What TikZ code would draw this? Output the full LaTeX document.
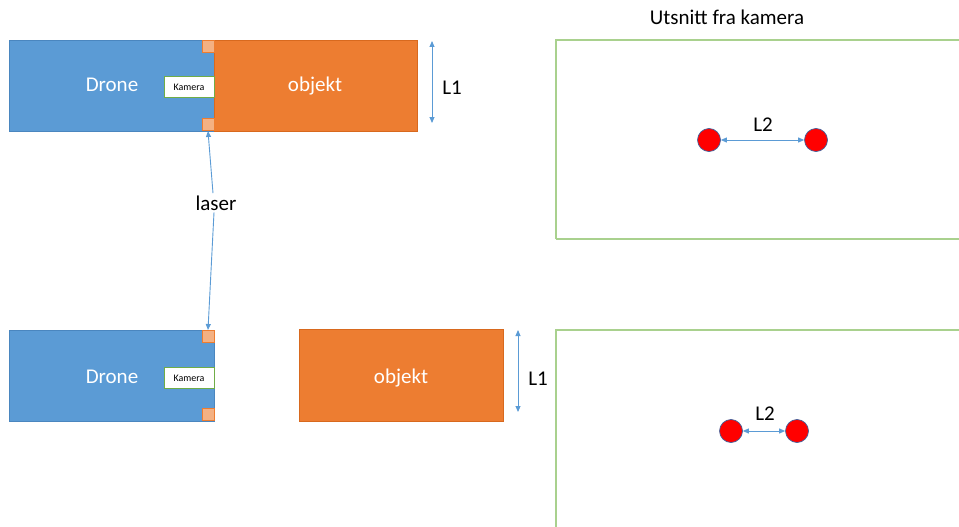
\documentclass[tikz,border=0pt]{standalone}
\usepackage{fontspec}
\setmainfont{Carlito}
\usetikzlibrary{arrows.meta}
\definecolor{droneblue}{HTML}{5B9BD5}
\definecolor{droneedge}{HTML}{4A86BF}
\definecolor{objorange}{HTML}{ED7D31}
\definecolor{objedge}{HTML}{D8691E}
\definecolor{laserfill}{HTML}{F4B183}
\definecolor{camgreen}{HTML}{70AD47}
\definecolor{viewgreen}{HTML}{A9D18E}
\definecolor{measure}{HTML}{5B9BD5}
\definecolor{dotedge}{HTML}{41619C}
\tikzset{
  dronebox/.style={draw=droneedge, fill=droneblue, line width=0.8pt},
  objbox/.style={draw=objedge, fill=objorange, line width=0.8pt},
  lasersq/.style={draw=objorange, fill=laserfill, line width=0.8pt},
  cambox/.style={draw=camgreen, fill=white, line width=1pt},
  viewbox/.style={draw=viewgreen, line width=1.2pt},
  reddot/.style={circle, draw=dotedge, fill=red, line width=0.7pt, minimum size=23pt, inner sep=0pt},
  measarrow/.style={draw=measure, line width=0.9pt, {Triangle[length=6pt,width=5pt]}-{Triangle[length=6pt,width=5pt]}},
  lasarrow/.style={draw=measure, line width=0.9pt, -{Triangle[length=6pt,width=5pt]}},
  bigtxt/.style={font=\fontsize{21}{23}\selectfont, anchor=base},
  whitetxt/.style={font=\fontsize{21}{23}\selectfont, text=white, anchor=base},
  camtxt/.style={font=\fontsize{10}{12}\selectfont, anchor=base}
}
\begin{document}
\begin{tikzpicture}[x=1pt, y=-1pt]
\useasboundingbox (0,0) rectangle (959,527);

% top: drone against the object
\draw[dronebox] (9,40) rectangle (214,131);
\draw[objbox] (214,40) rectangle (417,131);
\node[whitetxt] (droneA) at (112,92) {Drone};
\node[whitetxt] (objA) at (315,92) {objekt};
\draw[lasersq] (202,40) rectangle (214,52);
\draw[lasersq] (202,118) rectangle (214,130);
\coordinate (laserAbot) at (208,131);
\draw[cambox] (164,77) rectangle (214,98);
\node[camtxt] (camA) at (189,91) {Kamera};

\coordinate (l1Atop) at (432,41);
\coordinate (l1Abot) at (432,123);
\draw[measarrow] (l1Atop) -- (l1Abot);
\node[bigtxt] (l1A) at (452,95) {L1};

% bottom: drone at a distance from the object
\draw[dronebox] (9,330) rectangle (214,421);
\node[whitetxt] (droneB) at (112,383) {Drone};
\draw[lasersq] (202,330) rectangle (214,342);
\draw[lasersq] (202,408) rectangle (214,420);
\coordinate (laserBtop) at (208,330);
\draw[cambox] (164,367) rectangle (214,388);
\node[camtxt] (camB) at (189,381) {Kamera};

\draw[objbox] (299,329) rectangle (503,421);
\node[whitetxt] (objB) at (401,383) {objekt};

\coordinate (l1Btop) at (518,330);
\coordinate (l1Bbot) at (518,412);
\draw[measarrow] (l1Btop) -- (l1Bbot);
\node[bigtxt] (l1B) at (538,385) {L1};

% laser label with arrows to both laser points
\node[bigtxt, inner sep=2pt] (laser) at (216,210) {laser};
\draw[lasarrow] ([xshift=-3pt]laser.north) -- (laserAbot);
\draw[lasarrow] ([xshift=-2pt]laser.south) -- (laserBtop);

% camera views
\node[bigtxt] (title) at (727,25) {Utsnitt fra kamera};
\draw[viewbox] (556,239) -- (556,40) -- (962,40);
\draw[viewbox] (962,239) -- (556,239);
\draw[viewbox] (556,530) -- (556,330) -- (962,330);

\node[reddot] (dA1) at (709,140) {};
\node[reddot] (dA2) at (816,140) {};
\draw[measarrow] (dA1) -- (dA2);
\node[bigtxt] (l2A) at (763,131) {L2};

\node[reddot] (dB1) at (731,431) {};
\node[reddot] (dB2) at (797,431) {};
\draw[measarrow] (dB1) -- (dB2);
\node[bigtxt] (l2B) at (765,420) {L2};
\end{tikzpicture}
\end{document}
